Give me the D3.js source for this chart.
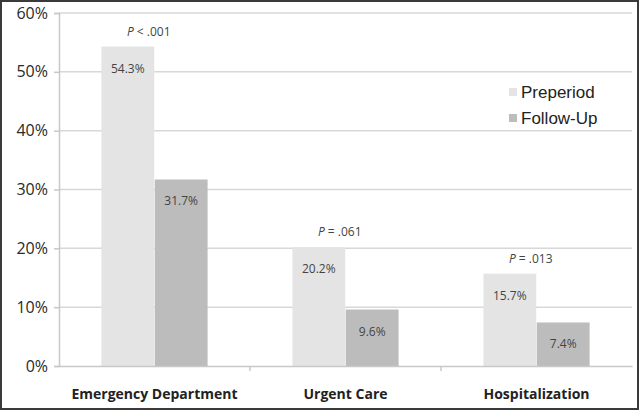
<!DOCTYPE html>
<html>
<head>
<meta charset="utf-8">
<script src="https://cdn.jsdelivr.net/npm/d3@7"></script>
<style>
  body { margin: 0; background: #fff; }
  svg { display: block; }
</style>
</head>
<body>
<script>
// data
const categories = ["Emergency Department", "Urgent Care", "Hospitalization"];
const series = ["Preperiod", "Follow-Up"];
const preperiod = [54.3, 20.2, 15.7];
const followUp = [31.7, 9.6, 7.4];
const pLabels = ["< .001", "= .061", "= .013"];
const yTicks = [0, 10, 20, 30, 40, 50, 60];
const colors = ["#e4e4e4", "#bcbcbc"];

const width = 640, height = 412;
const margin = {top: 13, right: 8, bottom: 46, left: 59};

const svg = d3.select("body").append("svg")
    .attr("width", width)
    .attr("height", height);

svg.append("rect")
    .attr("x", 1).attr("y", 1)
    .attr("width", width - 3).attr("height", height - 4)
    .attr("fill", "#fff")
    .attr("stroke", "#3a3a3a")
    .attr("stroke-width", 2);

const x0 = d3.scaleBand()
    .domain(categories)
    .range([margin.left, width - margin.right])
    .padding(0);

// bar pair takes a little over half of each category band
const x1 = d3.scaleBand()
    .domain(series)
    .range([x0.bandwidth() * 0.222, x0.bandwidth() * 0.778])
    .paddingInner(0.01);

const y = d3.scaleLinear()
    .domain([0, 60])
    .range([height - margin.bottom, margin.top]);

// gridlines
svg.append("g")
    .selectAll("line")
    .data(yTicks.slice(1))
    .join("line")
    .attr("x1", margin.left)
    .attr("x2", width - margin.right)
    .attr("y1", d => y(d))
    .attr("y2", d => y(d))
    .attr("stroke", "#d8d8d8")
    .attr("stroke-width", 1.5);

// y axis
const yAxis = d3.axisLeft(y)
    .tickValues(yTicks)
    .tickFormat(d => d + "%")
    .tickSize(5)
    .tickPadding(6);

const gy = svg.append("g")
    .attr("transform", `translate(${margin.left},0)`)
    .call(yAxis);
gy.select(".domain").attr("stroke", "#c8c8c8").attr("stroke-width", 1.5);
gy.selectAll(".tick line").attr("stroke", "#c8c8c8").attr("stroke-width", 1.5);
gy.selectAll(".tick text")
    .attr("fill", "#2a2a2a")
    .style("font-family", "'Open Sans', sans-serif")
    .style("font-size", "16px");

// bars
const groups = svg.append("g")
    .selectAll("g")
    .data(categories.map((c, i) => ({cat: c, vals: [preperiod[i], followUp[i]], p: pLabels[i]})))
    .join("g")
    .attr("transform", d => `translate(${x0(d.cat)},0)`);

groups.selectAll("rect")
    .data(d => d.vals.map((v, j) => ({key: series[j], v: v, j: j})))
    .join("rect")
    .attr("x", d => x1(d.key))
    .attr("y", d => y(d.v))
    .attr("width", x1.bandwidth())
    .attr("height", d => y(0) - y(d.v))
    .attr("fill", d => colors[d.j]);

groups.selectAll("text.val")
    .data(d => d.vals.map((v, j) => ({key: series[j], v: v})))
    .join("text")
    .attr("class", "val")
    .attr("x", d => x1(d.key) + x1.bandwidth() / 2)
    .attr("y", d => y(d.v) + 26)
    .attr("text-anchor", "middle")
    .attr("fill", "#444")
    .style("font-family", "'Open Sans', sans-serif")
    .style("font-size", "12px")
    .text(d => d.v.toFixed(1) + "%");

// P values above the bar pair, a bit left of its middle
const pText = groups.append("text")
    .attr("x", x1(series[1]) - 6)
    .attr("y", d => y(d.vals[0]) - 11)
    .attr("text-anchor", "middle")
    .attr("fill", "#444")
    .style("font-family", "'Open Sans', sans-serif")
    .style("font-size", "12px");
pText.append("tspan").style("font-style", "italic").text("P");
pText.append("tspan").text(d => " " + d.p);

// x axis
const xAxis = d3.axisBottom(x0).tickSize(0).tickPadding(23);
const gx = svg.append("g")
    .attr("transform", `translate(0,${y(0)})`)
    .call(xAxis);
gx.select(".domain").attr("stroke", "#c8c8c8").attr("stroke-width", 1.5);
gx.selectAll(".tick text")
    .attr("fill", "#222")
    .style("font-family", "'Open Sans', sans-serif")
    .style("font-weight", "bold")
    .style("font-size", "14px");

// category separators
svg.append("g")
    .selectAll("line")
    .data(categories.slice(1))
    .join("line")
    .attr("x1", d => x0(d))
    .attr("x2", d => x0(d))
    .attr("y1", y(0))
    .attr("y2", y(0) + 5)
    .attr("stroke", "#c8c8c8")
    .attr("stroke-width", 1.5);

// legend
const legend = svg.append("g")
    .attr("transform", "translate(509,92)");
const li = legend.selectAll("g")
    .data(series)
    .join("g")
    .attr("transform", (d, i) => `translate(0,${i * 26})`);
li.append("rect")
    .attr("x", 0).attr("y", -4)
    .attr("width", 8).attr("height", 8)
    .attr("fill", (d, i) => colors[i]);
li.append("text")
    .attr("x", 12)
    .attr("y", 6)
    .attr("fill", "#222")
    .style("font-family", "'Liberation Sans', Arial, sans-serif")
    .style("font-size", "17px")
    .text(d => d);
</script>
</body>
</html>
